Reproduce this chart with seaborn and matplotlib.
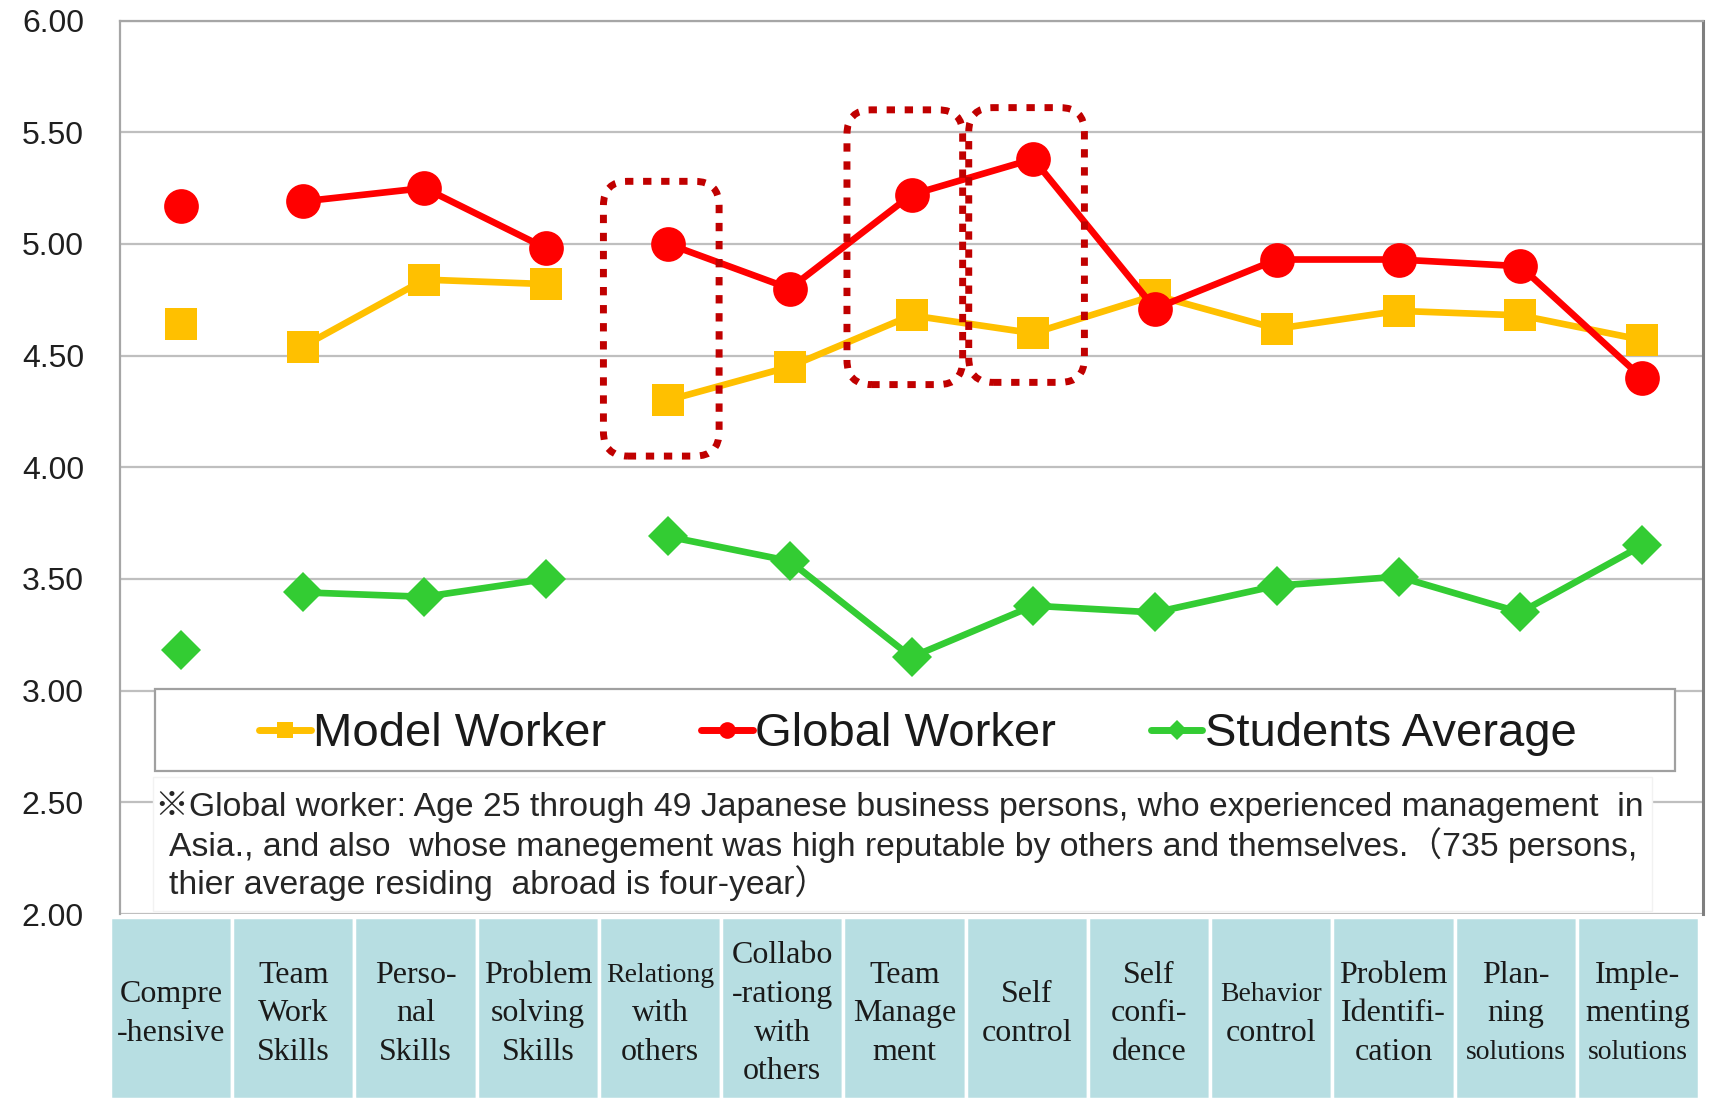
import numpy as np
import pandas as pd
import matplotlib
matplotlib.use("Agg")
import matplotlib.pyplot as plt
from matplotlib.patches import Rectangle, FancyBboxPatch
from matplotlib.lines import Line2D
import seaborn as sns

# ---- data -------------------------------------------------------------
categories = [
    ["Compre", "-hensive"],
    ["Team", "Work", "Skills"],
    ["Perso-", "nal", "Skills"],
    ["Problem", "solving", "Skills"],
    ["Relationg", "with", "others"],
    ["Collabo", "-rationg", "with", "others"],
    ["Team", "Manage", "ment"],
    ["Self", "control"],
    ["Self", "confi-", "dence"],
    ["Behavior", "control"],
    ["Problem", "Identifi-", "cation"],
    ["Plan-", "ning", "solutions"],
    ["Imple-", "menting", "solutions"],
]
# skill groups: overall score, individual skills, relational/management skills
category_group = [0, 1, 1, 1, 2, 2, 2, 2, 2, 2, 2, 2, 2]
model_worker = [4.64, 4.54, 4.84, 4.82, 4.30, 4.45, 4.68, 4.60, 4.77, 4.62, 4.70, 4.68, 4.57]
global_worker = [5.17, 5.19, 5.25, 4.98, 5.00, 4.80, 5.22, 5.38, 4.71, 4.93, 4.93, 4.90, 4.40]
students_average = [3.18, 3.44, 3.42, 3.50, 3.69, 3.58, 3.15, 3.38, 3.35, 3.47, 3.51, 3.35, 3.65]
series_names = ["Model Worker", "Global Worker", "Students Average"]
y_ticks = [2.00, 2.50, 3.00, 3.50, 4.00, 4.50, 5.00, 5.50, 6.00]
y_tick_labels = ["2.00", "2.50", "3.00", "3.50", "4.00", "4.50", "5.00", "5.50", "6.00"]
# highlighted categories and the score band each frame encloses
highlight_cats = [4, 6, 7]
highlight_bands = [(4.05, 5.28), (4.37, 5.60), (4.38, 5.61)]
note_lines = [
    "※Global worker: Age 25 through 49 Japanese business persons, who experienced management  in",
    "Asia., and also  whose manegement was high reputable by others and themselves.（735 persons,",
    "thier average residing  abroad is four-year）",
]
small_words = {"Relationg", "Behavior", "solutions"}

# ---- styling ------------------------------------------------------------
sns.set_theme(style="white")
plt.rcParams["font.family"] = ["Liberation Sans", "Noto Sans CJK JP", "DejaVu Sans"]

colors = {"Model Worker": "#FFC000", "Global Worker": "#FF0000", "Students Average": "#33CC33"}
markers = {"Model Worker": "s", "Global Worker": "o", "Students Average": "D"}
msizes = {"Model Worker": 23, "Global Worker": 25, "Students Average": 20}

rows = []
for name, vals in zip(series_names, [model_worker, global_worker, students_average]):
    for i, v in enumerate(vals):
        rows.append({"series": name, "pos": i, "score": v, "segment": category_group[i]})
df = pd.DataFrame(rows)

W, H = 1710, 1103
fig = plt.figure(figsize=(W / 100, H / 100), dpi=100)
fig.patch.set_facecolor("white")

ax = fig.add_axes([120 / W, 1 - 914 / H, (1703 - 120) / W, (914 - 20.5) / H])
ax.set_facecolor("white")

for name in series_names:
    sub = df[df["series"] == name]
    sns.lineplot(data=sub, x="pos", y="score", units="segment", estimator=None,
                 sort=False, color=colors[name], marker=markers[name],
                 markersize=msizes[name], markeredgewidth=0, linewidth=4.8,
                 legend=False, ax=ax, zorder=3 if name != "Global Worker" else 3.5)

ax.set_xlim(-0.5, len(categories) - 0.5)
ax.set_ylim(2.0, 6.0)
ax.set_xticks([])
ax.set_xlabel("")
ax.set_ylabel("")
ax.set_yticks(y_ticks)
ax.set_yticklabels(y_tick_labels)
ax.tick_params(axis="y", direction="out", length=7, width=1.5, color="#BFBFBF",
               pad=19, labelsize=23, labelcolor="#1F1F1F")
ax.yaxis.grid(True, color="#BFBFBF", linewidth=1.6)
ax.set_axisbelow(True)
for side in ["left", "top"]:
    ax.spines[side].set_visible(True)
    ax.spines[side].set_color("#A6A6A6")
    ax.spines[side].set_linewidth(1.6)
ax.spines["right"].set_visible(True)
ax.spines["right"].set_color("#7F7F7F")
ax.spines["right"].set_linewidth(2.2)
ax.spines["bottom"].set_visible(False)

# dotted frames around the highlighted categories
x_px = (1703 - 120) / len(categories)
y_px = (914 - 20.5) / 4.0
for c, (lo, hi) in zip(highlight_cats, highlight_bands):
    box = FancyBboxPatch((c - 0.53, lo), 0.95, hi - lo,
                         boxstyle="round,pad=0,rounding_size=0.2",
                         mutation_aspect=x_px / y_px,
                         facecolor="none", edgecolor="#C00000", linewidth=5,
                         linestyle=(0, (1.2, 1.4)), zorder=6)
    ax.add_patch(box)

# legend with its own frame
frame = Rectangle((0.0221, 0.160), 0.9605, 0.092, transform=ax.transAxes,
                  facecolor="white", edgecolor="#A0A0A0", linewidth=1.6, zorder=4.5)
ax.add_patch(frame)
handles = [Line2D([], [], color=colors[n], marker=markers[n], linewidth=5,
                  markersize=12 if n != "Students Average" else 10, markeredgewidth=0)
           for n in series_names]
leg = ax.legend(handles, series_names, loc="center", bbox_to_anchor=(0.504, 0.201),
                bbox_transform=ax.transAxes, ncol=3, frameon=False, fontsize=34,
                handlelength=1.1, handletextpad=0.05, columnspacing=2.0, borderpad=0)
leg.set_zorder(5)
for t in leg.get_texts():
    t.set_color("#1A1A1A")

# footnote on a white panel
note_box = Rectangle((0.0208, 0.0035), 0.947, 0.150, transform=ax.transAxes,
                     facecolor="white", edgecolor="#F2F2F2", linewidth=1, zorder=4.5)
ax.add_patch(note_box)
note_y = [0.1198, 0.0773, 0.0348]
note_x = [0.0221, 0.0309, 0.0309]
for txt, xx, yy in zip(note_lines, note_x, note_y):
    ax.text(xx, yy, txt, transform=ax.transAxes, ha="left", va="center",
            fontsize=24.3, color="#262626", zorder=5)

# category table under the plot
tab = fig.add_axes([110 / W, 1 - 1099 / H, (1699 - 110) / W, (1099 - 917) / H])
tab.set_xlim(0, len(categories))
tab.set_ylim(0, 1)
tab.axis("off")
line_step = 0.2126
for i, lines in enumerate(categories):
    tab.add_patch(Rectangle((i, 0), 1, 1, facecolor="#B7DEE2", edgecolor="white", linewidth=2.5))
    n = len(lines)
    for k, word in enumerate(lines):
        yy = 0.468 + ((n - 1) / 2 - k) * line_step
        tab.text(i + 0.5, yy, word, ha="center", va="center",
                 fontsize=20 if word in small_words else 23,
                 family=["Liberation Serif", "DejaVu Serif"], color="#1A1A1A")

fig.savefig("out.png", dpi=100, facecolor="white")
